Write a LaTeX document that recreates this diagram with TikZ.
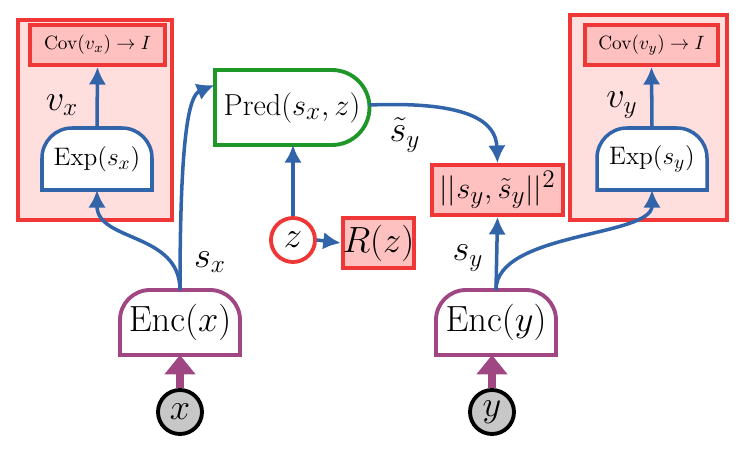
\documentclass[tikz,border=0pt]{standalone}
\usetikzlibrary{arrows.meta}
\definecolor{myred}{RGB}{240,55,55}
\definecolor{pinkA}{RGB}{255,222,222}
\definecolor{pinkB}{RGB}{255,192,192}
\definecolor{mygreen}{RGB}{30,150,40}
\definecolor{mypurple}{RGB}{160,70,130}
\definecolor{myblue}{RGB}{50,100,170}
\tikzset{
  lbl/.style={inner sep=0pt, outer sep=0pt},
  conn/.style={myblue, line width=2pt, -{Latex[length=10pt,width=10pt]}},
  inarr/.style={mypurple, line width=4.5pt, -{Triangle[length=11pt,width=17pt]}},
  redbox/.style={draw=myred, line width=2.2pt},
}
\begin{document}
\begin{tikzpicture}[x=0.02cm,y=0.02cm]
\useasboundingbox (0,0) rectangle (750,457);
% outer boxes
\draw[redbox, fill=pinkA] (18,237) rectangle (172,437);
\draw[redbox, fill=pinkA] (570,237) rectangle (727,442);
\node[redbox, fill=pinkB, minimum width=135*0.02cm, minimum height=40*0.02cm, font=\fontsize{11}{13}\selectfont] (covx) at (97.5,412) {$\mathrm{Cov}(v_x)\rightarrow I$};
\node[redbox, fill=pinkB, minimum width=133*0.02cm, minimum height=40*0.02cm, font=\fontsize{11}{13}\selectfont] (covy) at (651.5,412) {$\mathrm{Cov}(v_y)\rightarrow I$};
% Exp shapes
\draw[myblue, line width=2pt, fill=white] (42,267) -- (42,299) arc[start angle=180,end angle=90,radius=30] -- (122,329) arc[start angle=90,end angle=0,radius=30] -- (152,267) -- cycle;
\node[lbl, minimum width=110*0.02cm, minimum height=62*0.02cm, font=\fontsize{15}{17}\selectfont] (expx) at (97,298) {$\mathrm{Exp}(s_x)$};
\draw[myblue, line width=2pt, fill=white] (597,267) -- (597,299) arc[start angle=180,end angle=90,radius=30] -- (677,329) arc[start angle=90,end angle=0,radius=30] -- (707,267) -- cycle;
\node[lbl, minimum width=110*0.02cm, minimum height=62*0.02cm, font=\fontsize{15}{17}\selectfont] (expy) at (652,298) {$\mathrm{Exp}(s_y)$};
\node[lbl, font=\fontsize{22}{24}\selectfont] (vx) at (62,352) {$v_x$};
\node[lbl, font=\fontsize{22}{24}\selectfont] (vy) at (622,352) {$v_y$};
\draw[conn] (expx.north) -- (covx.south);
\draw[conn] (expy.north) -- (covy.south);
% Pred
\draw[mygreen, line width=2.2pt, fill=white] (215,312) -- (215,387) -- (332,387) arc[start angle=90,end angle=-90,radius=37.5] -- cycle;
\node[lbl, minimum width=155*0.02cm, minimum height=75*0.02cm, font=\fontsize{19}{21}\selectfont] (pred) at (292,349.5) {$\mathrm{Pred}(s_x,z)$};
\node[lbl, font=\fontsize{22}{24}\selectfont] (sty) at (405,322) {$\tilde{s}_y$};
% z and R
\node[circle, draw=myred, line width=2.2pt, fill=white, minimum size=44*0.02cm, inner sep=0pt, font=\fontsize{22}{24}\selectfont] (z) at (293,217) {$z$};
\node[redbox, fill=pinkB, minimum width=67*0.02cm, minimum height=50*0.02cm, inner sep=0pt, font=\fontsize{20}{22}\selectfont] (rz) at (378.5,214) {$R(z)$};
% norm
\node[redbox, fill=pinkB, minimum width=131*0.02cm, minimum height=50*0.02cm, inner sep=0pt, font=\fontsize{19}{21}\selectfont] (norm) at (497.5,267) {$||s_y,\tilde{s}_y||^2$};
% Enc
\draw[mypurple, line width=2.2pt, fill=white] (120,102) -- (120,137) arc[start angle=180,end angle=90,radius=30] -- (210,167) arc[start angle=90,end angle=0,radius=30] -- (240,102) -- cycle;
\node[lbl, minimum width=120*0.02cm, minimum height=65*0.02cm, font=\fontsize{22}{24}\selectfont] (encx) at (180,134.5) {$\mathrm{Enc}(x)$};
\draw[mypurple, line width=2.2pt, fill=white] (436,102) -- (436,137) arc[start angle=180,end angle=90,radius=30] -- (526,167) arc[start angle=90,end angle=0,radius=30] -- (556,102) -- cycle;
\node[lbl, minimum width=120*0.02cm, minimum height=65*0.02cm, font=\fontsize{22}{24}\selectfont] (ency) at (496,134.5) {$\mathrm{Enc}(y)$};
% inputs
\node[circle, draw=black, line width=2.2pt, fill=black!22, minimum size=44*0.02cm, inner sep=0pt, font=\fontsize{22}{24}\selectfont] (x) at (180,45) {$x$};
\node[circle, draw=black, line width=2.2pt, fill=black!22, minimum size=44*0.02cm, inner sep=0pt, font=\fontsize{22}{24}\selectfont] (y) at (492,45) {$y$};
\draw[inarr] (x.north) -- (encx.south);
\draw[inarr] (y.north) -- (492,102);
% labels
\node[lbl, font=\fontsize{22}{24}\selectfont] (sx) at (210,195) {$s_x$};
\node[lbl, font=\fontsize{22}{24}\selectfont] (sy) at (468,199) {$s_y$};
% connectors
\draw[conn] (encx.north) .. controls (180,225) and (97,215) .. (expx.south);
\draw[conn] (encx.north) .. controls (180,330) and (190,362) .. (pred.west |- 0,372);
\draw[conn] (pred.east |- 0,352) .. controls (470,356) and (496,335) .. (norm.north);
\draw[conn] (z.north) -- (z.north |- pred.south);
\draw[conn] (z.east) -- (rz.west);
\draw[conn] (ency.north) -- (norm.south);
\draw[conn] (ency.north) .. controls (496,225) and (652,220) .. (expy.south);
\end{tikzpicture}
\end{document}
